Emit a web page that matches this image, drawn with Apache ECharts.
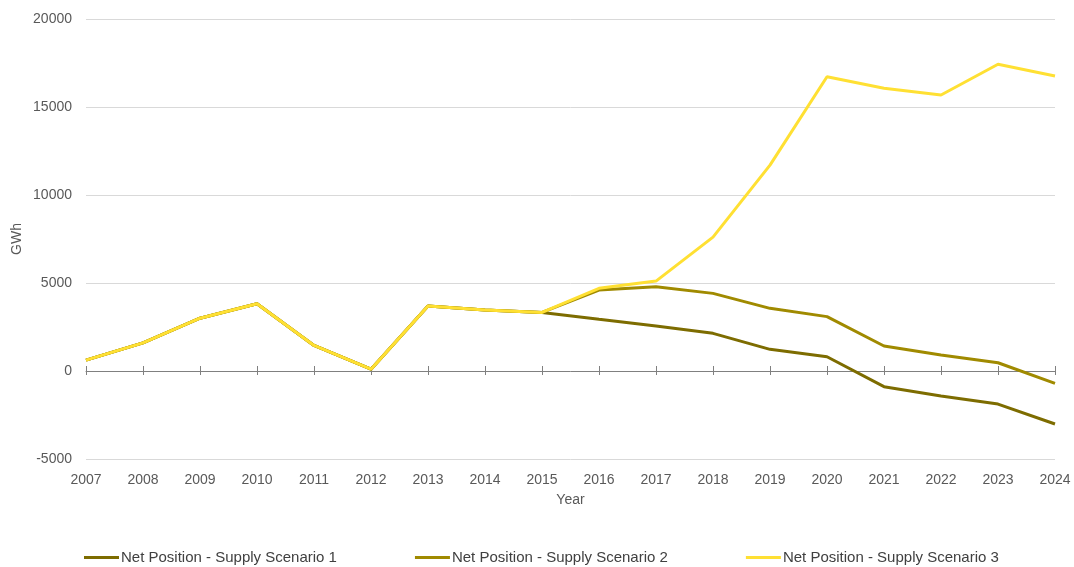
<!DOCTYPE html>
<html>
<head>
<meta charset="utf-8">
<script src="https://cdn.jsdelivr.net/npm/echarts@6/dist/echarts.min.js"></script>
<style>html,body{margin:0;padding:0;background:#fff;}#c{width:1074px;height:567px;}</style>
</head>
<body>
<div id="c"></div>
<script>
var years = ['2007','2008','2009','2010','2011','2012','2013','2014','2015','2016','2017','2018','2019','2020','2021','2022','2023','2024'];
var scenario1 = [620, 1600, 3000, 3820, 1450, 100, 3700, 3460, 3330, 2940, 2560, 2140, 1230, 810, -890, -1420, -1880, -3010];
var scenario2 = [620, 1600, 3000, 3820, 1450, 100, 3700, 3460, 3330, 4600, 4790, 4410, 3560, 3090, 1420, 910, 470, -700];
var scenario3 = [620, 1600, 3000, 3820, 1450, 100, 3700, 3460, 3330, 4700, 5110, 7610, 11700, 16720, 16060, 15680, 17430, 16760];
var seriesNames = ['Net Position - Supply Scenario 1', 'Net Position - Supply Scenario 2', 'Net Position - Supply Scenario 3'];
var colors = ['#7d6c00', '#a08a00', '#ffe033'];

var font = 'Liberation Sans, Arial, sans-serif';
var chart = echarts.init(document.getElementById('c'), null, {renderer: 'canvas'});
function mk(i, data) {
  return {
    name: seriesNames[i], type: 'line', data: data, xAxisIndex: 0, yAxisIndex: 0,
    symbol: 'none', smooth: false, z: 3 + i,
    lineStyle: {color: colors[i], width: 3},
    itemStyle: {color: colors[i]}
  };
}
chart.setOption({
  animation: false,
  backgroundColor: '#fff',
  grid: {left: 86, right: 19, top: 19, bottom: 108, containLabel: false, outerBoundsMode: 'none'},
  legend: {
    top: 545, left: 79, itemWidth: 35, itemHeight: 3, itemGap: 78, icon: 'rect',
    textStyle: {color: '#404040', fontSize: 15, fontFamily: font, padding: [0,0,0,-3]},
    data: seriesNames
  },
  xAxis: [{
    type: 'category', data: years, boundaryGap: false, position: 'bottom',
    axisLine: {show: false, onZero: false}, axisTick: {show: false},
    axisLabel: {color: '#595959', fontSize: 14, fontFamily: font, margin: 14},
    name: 'Year', nameLocation: 'middle', nameGap: 34, nameMoveOverlap: false,
    nameTextStyle: {color: '#595959', fontSize: 14, fontFamily: font},
    splitLine: {show: false}
  }, {
    type: 'category', data: years, boundaryGap: false, gridIndex: 0,
    axisLine: {show: true, onZero: true, onZeroAxisIndex: 0, lineStyle: {color: '#808080', width: 1}},
    axisTick: {show: true, inside: false, length: 5, lineStyle: {color: '#808080'}},
    axisLabel: {show: false}, splitLine: {show: false}
  }, {
    type: 'category', data: years, boundaryGap: false, gridIndex: 0,
    axisLine: {show: false, onZero: true, onZeroAxisIndex: 0},
    axisTick: {show: true, inside: true, length: 4, lineStyle: {color: '#808080'}},
    axisLabel: {show: false}, splitLine: {show: false}
  }],
  yAxis: [{
    type: 'value', min: -5000, max: 20000, interval: 5000,
    axisLine: {show: false}, axisTick: {show: false},
    axisLabel: {color: '#595959', fontSize: 14, fontFamily: font, margin: 14, formatter: function (v) { return String(v); }},
    splitLine: {show: true, lineStyle: {color: '#d9d9d9', width: 1}},
    name: 'GWh', nameLocation: 'middle', nameGap: 62, nameRotate: 90, nameMoveOverlap: false,
    nameTextStyle: {color: '#595959', fontSize: 14, fontFamily: font}
  }],
  series: [mk(0, scenario1), mk(1, scenario2), mk(2, scenario3)]
});
</script>
</body>
</html>
